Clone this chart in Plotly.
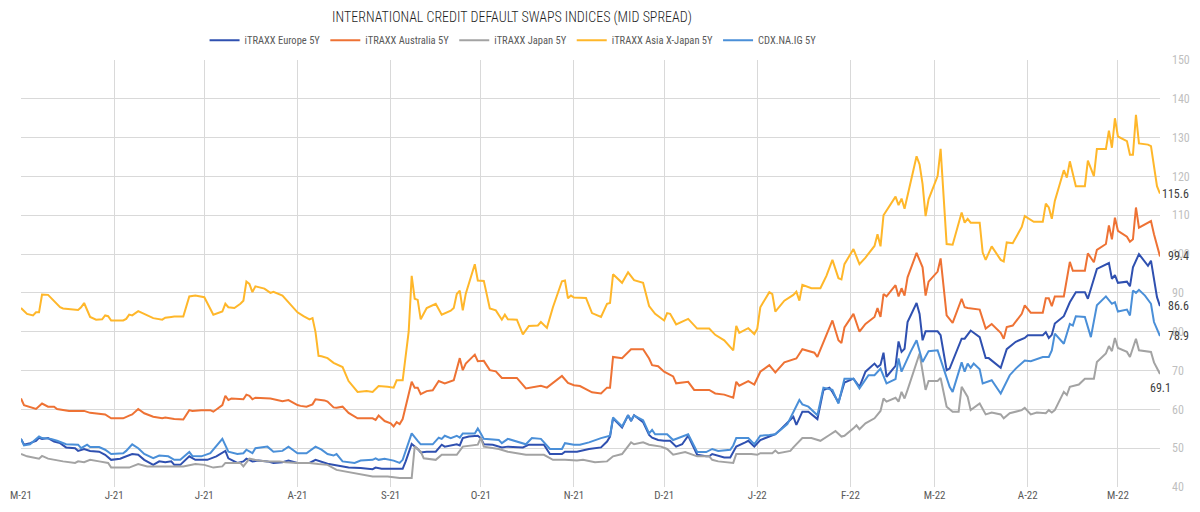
import plotly.graph_objects as go

TITLE = "INTERNATIONAL CREDIT DEFAULT SWAPS INDICES (MID SPREAD)"

TICK_DATES = ["2021-05-01", "2021-06-01", "2021-07-01", "2021-08-01", "2021-09-01", "2021-10-01",
              "2021-11-01", "2021-12-01", "2022-01-01", "2022-02-01", "2022-03-01", "2022-04-01",
              "2022-05-01"]
TICK_LABELS = ["M-21", "J-21", "J-21", "A-21", "S-21", "O-21", "N-21", "D-21", "J-22", "F-22",
               "M-22", "A-22", "M-22"]

# iTRAXX Asia X-Japan 5Y
ASIA_DATES = [
    "2021-05-01", "2021-05-03", "2021-05-05", "2021-05-06", "2021-05-07", "2021-05-08", "2021-05-10", "2021-05-12", "2021-05-14", "2021-05-15",
    "2021-05-17", "2021-05-20", "2021-05-21", "2021-05-22", "2021-05-24", "2021-05-26", "2021-05-28", "2021-05-29", "2021-05-30", "2021-05-31",
    "2021-06-04", "2021-06-05", "2021-06-06", "2021-06-07", "2021-06-09", "2021-06-11", "2021-06-14", "2021-06-17", "2021-06-18", "2021-06-20",
    "2021-06-21", "2021-06-24", "2021-06-26", "2021-06-28", "2021-07-01", "2021-07-04", "2021-07-05", "2021-07-07", "2021-07-08", "2021-07-09",
    "2021-07-11", "2021-07-13", "2021-07-14", "2021-07-15", "2021-07-16", "2021-07-17", "2021-07-18", "2021-07-21", "2021-07-23", "2021-07-24",
    "2021-07-27", "2021-07-29", "2021-08-01", "2021-08-03", "2021-08-05", "2021-08-06", "2021-08-07", "2021-08-08", "2021-08-09", "2021-08-11",
    "2021-08-13", "2021-08-16", "2021-08-18", "2021-08-21", "2021-08-24", "2021-08-26", "2021-08-28", "2021-08-31", "2021-09-02", "2021-09-03",
    "2021-09-05", "2021-09-07", "2021-09-08", "2021-09-09", "2021-09-10", "2021-09-11", "2021-09-13", "2021-09-16", "2021-09-18", "2021-09-21",
    "2021-09-22", "2021-09-23", "2021-09-24", "2021-09-25", "2021-09-26", "2021-09-29", "2021-09-30", "2021-10-02", "2021-10-04", "2021-10-06",
    "2021-10-08", "2021-10-09", "2021-10-10", "2021-10-13", "2021-10-15", "2021-10-17", "2021-10-20", "2021-10-21", "2021-10-23", "2021-10-25",
    "2021-10-28", "2021-10-29", "2021-10-30", "2021-10-31", "2021-11-01", "2021-11-05", "2021-11-07", "2021-11-10", "2021-11-12", "2021-11-13",
    "2021-11-14", "2021-11-17", "2021-11-19", "2021-11-21", "2021-11-24", "2021-11-26", "2021-11-28", "2021-12-01", "2021-12-02", "2021-12-03",
    "2021-12-05", "2021-12-09", "2021-12-12", "2021-12-16", "2021-12-18", "2021-12-21", "2021-12-23", "2021-12-24", "2021-12-25", "2021-12-26",
    "2021-12-29", "2021-12-31", "2022-01-01", "2022-01-02", "2022-01-05", "2022-01-06", "2022-01-07", "2022-01-10", "2022-01-13", "2022-01-14",
    "2022-01-15", "2022-01-16", "2022-01-19", "2022-01-22", "2022-01-24", "2022-01-26", "2022-01-28", "2022-01-29", "2022-01-30", "2022-02-02",
    "2022-02-04", "2022-02-06", "2022-02-09", "2022-02-10", "2022-02-11", "2022-02-12", "2022-02-16", "2022-02-17", "2022-02-18", "2022-02-19",
    "2022-02-23", "2022-02-24", "2022-02-25", "2022-02-26", "2022-02-27", "2022-03-02", "2022-03-03", "2022-03-05", "2022-03-07", "2022-03-10",
    "2022-03-11", "2022-03-12", "2022-03-13", "2022-03-16", "2022-03-17", "2022-03-18", "2022-03-20", "2022-03-23", "2022-03-24", "2022-03-25",
    "2022-03-27", "2022-03-30", "2022-03-31", "2022-04-03", "2022-04-06", "2022-04-07", "2022-04-08", "2022-04-09", "2022-04-10", "2022-04-13",
    "2022-04-14", "2022-04-15", "2022-04-17", "2022-04-20", "2022-04-21", "2022-04-23", "2022-04-24", "2022-04-27", "2022-04-28", "2022-04-29",
    "2022-04-30", "2022-05-01", "2022-05-03", "2022-05-04", "2022-05-05", "2022-05-06", "2022-05-07", "2022-05-08", "2022-05-11", "2022-05-12",
    "2022-05-14", "2022-05-15"]
ASIA_VALUES = [
    86.1, 84.6, 84.2, 85.0, 85.0, 89.6, 89.5, 88.0, 86.3, 86.0,
    85.9, 85.6, 86.3, 87.4, 83.8, 83.1, 83.2, 84.2, 84.0, 82.9,
    82.9, 83.3, 84.4, 84.2, 85.3, 84.6, 83.5, 83.1, 83.6, 83.8,
    83.9, 83.9, 89.1, 89.3, 88.9, 84.4, 84.6, 85.2, 87.2, 86.3,
    86.1, 87.2, 88.0, 92.9, 92.3, 90.2, 91.7, 91.1, 90.0, 90.3,
    89.3, 87.6, 85.0, 84.0, 83.2, 83.5, 79.9, 73.8, 73.7, 73.2,
    72.0, 70.9, 67.3, 64.5, 64.7, 64.5, 66.0, 65.8, 65.6, 67.5,
    67.5, 80.0, 94.4, 88.5, 88.2, 83.2, 86.1, 87.2, 84.4, 85.4,
    86.1, 89.7, 90.6, 85.5, 89.8, 97.4, 93.2, 93.1, 86.0, 85.5,
    83.1, 84.4, 83.2, 83.1, 79.3, 81.5, 81.6, 82.5, 81.0, 86.3,
    93.0, 93.2, 88.6, 89.3, 88.8, 88.7, 84.8, 83.8, 87.2, 87.4,
    94.8, 92.6, 95.3, 93.3, 92.6, 86.6, 84.6, 82.9, 84.8, 84.6,
    81.9, 83.3, 80.8, 80.8, 79.2, 77.8, 76.1, 75.2, 81.5, 79.7,
    80.9, 79.4, 80.8, 86.3, 90.2, 89.7, 85.2, 88.0, 89.5, 90.3,
    88.0, 92.1, 91.2, 91.2, 94.4, 98.5, 93.8, 93.5, 97.4, 101.3,
    97.4, 99.1, 102.1, 105.1, 102.0, 110.0, 114.8, 112.6, 114.3, 111.7,
    125.2, 123.1, 118.0, 109.8, 114.1, 120.1, 127.1, 102.6, 102.4, 110.7,
    108.1, 109.1, 108.1, 108.1, 100.4, 98.5, 102.0, 98.5, 98.1, 103.0,
    102.8, 107.0, 109.8, 108.3, 108.3, 113.0, 112.0, 109.1, 113.7, 121.6,
    119.7, 123.9, 117.5, 117.5, 124.1, 120.1, 127.1, 127.1, 131.8, 127.4,
    135.0, 130.3, 129.5, 129.1, 125.6, 125.6, 135.9, 128.5, 128.2, 127.8,
    117.5, 115.6]

# iTRAXX Australia 5Y
AUS_DATES = [
    "2021-05-01", "2021-05-02", "2021-05-06", "2021-05-08", "2021-05-10", "2021-05-12", "2021-05-13", "2021-05-17", "2021-05-20", "2021-05-22",
    "2021-05-24", "2021-05-27", "2021-05-29", "2021-05-31", "2021-06-04", "2021-06-06", "2021-06-07", "2021-06-09", "2021-06-11", "2021-06-14",
    "2021-06-17", "2021-06-18", "2021-06-21", "2021-06-24", "2021-06-26", "2021-06-27", "2021-06-30", "2021-07-03", "2021-07-04", "2021-07-07",
    "2021-07-08", "2021-07-09", "2021-07-10", "2021-07-14", "2021-07-15", "2021-07-16", "2021-07-17", "2021-07-18", "2021-07-23", "2021-07-27",
    "2021-07-29", "2021-08-01", "2021-08-02", "2021-08-04", "2021-08-06", "2021-08-07", "2021-08-10", "2021-08-11", "2021-08-13", "2021-08-14",
    "2021-08-16", "2021-08-18", "2021-08-21", "2021-08-26", "2021-08-27", "2021-08-28", "2021-08-30", "2021-09-01", "2021-09-02", "2021-09-03",
    "2021-09-04", "2021-09-05", "2021-09-08", "2021-09-09", "2021-09-10", "2021-09-11", "2021-09-13", "2021-09-15", "2021-09-17", "2021-09-19",
    "2021-09-22", "2021-09-24", "2021-09-25", "2021-09-26", "2021-09-29", "2021-09-30", "2021-10-02", "2021-10-04", "2021-10-06", "2021-10-08",
    "2021-10-13", "2021-10-16", "2021-10-18", "2021-10-21", "2021-10-23", "2021-10-28", "2021-10-30", "2021-11-01", "2021-11-03", "2021-11-05",
    "2021-11-07", "2021-11-10", "2021-11-12", "2021-11-13", "2021-11-14", "2021-11-17", "2021-11-20", "2021-11-24", "2021-11-26", "2021-11-27",
    "2021-11-29", "2021-12-01", "2021-12-04", "2021-12-05", "2021-12-09", "2021-12-11", "2021-12-16", "2021-12-18", "2021-12-21", "2021-12-24",
    "2021-12-25", "2021-12-26", "2021-12-29", "2021-12-31", "2022-01-02", "2022-01-05", "2022-01-07", "2022-01-10", "2022-01-14", "2022-01-16",
    "2022-01-20", "2022-01-21", "2022-01-24", "2022-01-26", "2022-01-28", "2022-01-29", "2022-01-30", "2022-02-02", "2022-02-04", "2022-02-06",
    "2022-02-09", "2022-02-10", "2022-02-11", "2022-02-12", "2022-02-13", "2022-02-16", "2022-02-17", "2022-02-18", "2022-02-19", "2022-02-20",
    "2022-02-23", "2022-02-25", "2022-02-26", "2022-02-27", "2022-03-02", "2022-03-03", "2022-03-05", "2022-03-07", "2022-03-10", "2022-03-11",
    "2022-03-12", "2022-03-16", "2022-03-18", "2022-03-20", "2022-03-23", "2022-03-24", "2022-03-25", "2022-03-27", "2022-03-30", "2022-03-31",
    "2022-04-02", "2022-04-06", "2022-04-07", "2022-04-08", "2022-04-09", "2022-04-10", "2022-04-13", "2022-04-15", "2022-04-16", "2022-04-20",
    "2022-04-21", "2022-04-23", "2022-04-24", "2022-04-27", "2022-04-28", "2022-04-29", "2022-04-30", "2022-05-01", "2022-05-04", "2022-05-05",
    "2022-05-06", "2022-05-07", "2022-05-08", "2022-05-12", "2022-05-13", "2022-05-15"]
AUS_VALUES = [
    62.8, 61.1, 60.1, 61.5, 60.7, 60.7, 60.1, 59.6, 59.6, 59.6,
    59.1, 58.9, 58.7, 57.7, 57.7, 58.4, 58.7, 60.1, 59.0, 58.1,
    57.7, 57.9, 57.5, 57.4, 59.8, 59.6, 59.8, 59.8, 59.4, 61.1,
    63.5, 62.4, 62.8, 62.6, 63.8, 63.5, 62.6, 63.0, 62.8, 62.1,
    62.4, 61.1, 60.9, 60.7, 61.3, 62.6, 62.3, 62.0, 60.5, 60.4,
    60.7, 59.1, 57.7, 57.7, 57.3, 58.4, 57.0, 56.4, 55.6, 56.7,
    56.2, 57.5, 67.1, 65.6, 65.6, 63.9, 64.7, 64.9, 67.3, 66.7,
    67.5, 73.2, 70.1, 71.8, 74.1, 72.4, 72.5, 70.1, 69.8, 68.1,
    68.1, 65.4, 65.7, 66.1, 65.6, 68.6, 66.8, 66.2, 66.0, 65.1,
    64.4, 64.1, 65.6, 65.6, 73.5, 73.2, 75.5, 75.5, 73.1, 71.4,
    71.1, 69.7, 68.5, 66.7, 67.1, 65.0, 65.0, 64.1, 63.8, 63.0,
    67.1, 66.1, 67.3, 66.4, 69.7, 71.4, 69.5, 72.1, 73.1, 75.5,
    74.6, 73.5, 78.9, 82.9, 77.8, 77.1, 81.1, 84.6, 80.0, 82.0,
    83.8, 86.1, 83.8, 89.7, 89.1, 92.0, 89.1, 91.2, 89.3, 94.0,
    100.3, 96.6, 89.3, 92.9, 95.5, 98.9, 84.2, 82.3, 88.5, 86.3,
    86.1, 85.7, 80.8, 82.0, 79.7, 78.2, 81.2, 81.6, 84.6, 86.8,
    84.9, 84.9, 88.6, 88.6, 86.6, 89.1, 89.1, 98.0, 95.7, 95.7,
    100.2, 97.9, 101.1, 102.6, 107.4, 103.8, 109.4, 106.0, 104.5, 103.2,
    103.8, 112.0, 106.8, 108.5, 105.1, 99.4]

# iTRAXX Europe 5Y
EUR_DATES = [
    "2021-05-01", "2021-05-02", "2021-05-04", "2021-05-06", "2021-05-07", "2021-05-08", "2021-05-10", "2021-05-12", "2021-05-14", "2021-05-16",
    "2021-05-19", "2021-05-20", "2021-05-22", "2021-05-24", "2021-05-27", "2021-05-29", "2021-05-31", "2021-06-03", "2021-06-04", "2021-06-07",
    "2021-06-09", "2021-06-11", "2021-06-14", "2021-06-16", "2021-06-18", "2021-06-20", "2021-06-21", "2021-06-23", "2021-06-26", "2021-06-28",
    "2021-07-02", "2021-07-05", "2021-07-08", "2021-07-09", "2021-07-12", "2021-07-14", "2021-07-15", "2021-07-17", "2021-07-19", "2021-07-22",
    "2021-07-24", "2021-07-27", "2021-07-29", "2021-08-01", "2021-08-05", "2021-08-07", "2021-08-11", "2021-08-14", "2021-08-18", "2021-08-22",
    "2021-08-26", "2021-08-27", "2021-08-29", "2021-09-02", "2021-09-05", "2021-09-06", "2021-09-08", "2021-09-10", "2021-09-11", "2021-09-13",
    "2021-09-16", "2021-09-18", "2021-09-19", "2021-09-23", "2021-09-24", "2021-09-25", "2021-09-27", "2021-09-30", "2021-10-01", "2021-10-02",
    "2021-10-05", "2021-10-08", "2021-10-10", "2021-10-15", "2021-10-17", "2021-10-22", "2021-10-24", "2021-10-28", "2021-10-29", "2021-11-02",
    "2021-11-06", "2021-11-10", "2021-11-12", "2021-11-13", "2021-11-14", "2021-11-17", "2021-11-19", "2021-11-20", "2021-11-21", "2021-11-24",
    "2021-11-26", "2021-11-27", "2021-11-29", "2021-12-01", "2021-12-03", "2021-12-05", "2021-12-07", "2021-12-09", "2021-12-12", "2021-12-15",
    "2021-12-16", "2021-12-17", "2021-12-21", "2021-12-23", "2021-12-25", "2021-12-28", "2021-12-29", "2021-12-31", "2022-01-02", "2022-01-05",
    "2022-01-07", "2022-01-09", "2022-01-13", "2022-01-14", "2022-01-16", "2022-01-18", "2022-01-21", "2022-01-23", "2022-01-25", "2022-01-26",
    "2022-01-28", "2022-01-30", "2022-02-02", "2022-02-04", "2022-02-06", "2022-02-09", "2022-02-10", "2022-02-11", "2022-02-12", "2022-02-13",
    "2022-02-16", "2022-02-17", "2022-02-18", "2022-02-19", "2022-02-20", "2022-02-23", "2022-02-24", "2022-02-25", "2022-02-26", "2022-03-02",
    "2022-03-03", "2022-03-05", "2022-03-06", "2022-03-10", "2022-03-11", "2022-03-13", "2022-03-16", "2022-03-18", "2022-03-19", "2022-03-23",
    "2022-03-25", "2022-03-28", "2022-03-29", "2022-03-31", "2022-04-01", "2022-04-06", "2022-04-07", "2022-04-08", "2022-04-09", "2022-04-10",
    "2022-04-13", "2022-04-15", "2022-04-17", "2022-04-20", "2022-04-21", "2022-04-24", "2022-04-28", "2022-04-29", "2022-04-30", "2022-05-01",
    "2022-05-04", "2022-05-05", "2022-05-06", "2022-05-08", "2022-05-11", "2022-05-12", "2022-05-14", "2022-05-15"]
EUR_VALUES = [
    52.4, 50.9, 51.3, 51.9, 52.7, 52.4, 52.6, 51.7, 51.3, 50.2,
    50.0, 49.3, 49.8, 49.3, 49.1, 48.3, 47.0, 47.3, 47.6, 48.5,
    48.3, 47.0, 45.7, 46.6, 46.4, 46.6, 45.7, 45.7, 47.9, 47.0,
    47.0, 47.9, 49.3, 47.4, 46.2, 46.6, 47.3, 46.6, 46.8, 46.6,
    46.2, 46.4, 46.8, 46.2, 46.2, 47.0, 46.0, 45.6, 45.0, 44.9,
    44.6, 45.0, 44.7, 44.7, 44.7, 46.6, 51.1, 49.8, 48.9, 49.1,
    49.1, 50.9, 50.4, 51.0, 50.7, 52.6, 53.0, 53.2, 52.6, 51.0,
    50.9, 50.2, 50.4, 50.2, 50.9, 50.9, 48.5, 48.5, 49.1, 49.1,
    49.8, 50.2, 51.7, 53.0, 57.7, 55.3, 58.5, 57.0, 58.5, 56.7,
    53.4, 52.7, 52.1, 51.9, 51.9, 50.4, 51.0, 53.2, 48.3, 47.9,
    47.9, 48.5, 47.6, 47.6, 50.4, 51.5, 51.9, 50.4, 52.1, 53.0,
    53.6, 55.0, 58.1, 56.0, 59.4, 59.4, 57.5, 65.0, 65.6, 64.5,
    61.8, 66.9, 67.9, 65.8, 69.7, 71.8, 70.9, 71.5, 74.6, 68.4,
    71.2, 77.5, 74.8, 75.6, 82.5, 87.4, 84.6, 77.8, 80.1, 80.1,
    79.1, 70.1, 70.5, 78.2, 78.2, 80.3, 78.6, 73.2, 73.2, 70.7,
    75.5, 77.4, 77.8, 78.4, 79.1, 79.1, 79.9, 78.4, 79.2, 82.1,
    84.0, 87.6, 90.2, 90.2, 88.5, 96.2, 97.7, 93.6, 94.6, 92.6,
    92.9, 91.7, 96.6, 100.0, 97.0, 98.3, 88.9, 86.6]

# CDX.NA.IG 5Y
CDX_DATES = [
    "2021-05-01", "2021-05-02", "2021-05-04", "2021-05-07", "2021-05-08", "2021-05-11", "2021-05-13", "2021-05-16", "2021-05-20", "2021-05-21",
    "2021-05-23", "2021-05-24", "2021-05-27", "2021-05-29", "2021-05-31", "2021-06-04", "2021-06-05", "2021-06-07", "2021-06-09", "2021-06-11",
    "2021-06-14", "2021-06-16", "2021-06-19", "2021-06-21", "2021-06-23", "2021-06-26", "2021-06-27", "2021-06-30", "2021-07-03", "2021-07-07",
    "2021-07-09", "2021-07-12", "2021-07-14", "2021-07-15", "2021-07-17", "2021-07-18", "2021-07-22", "2021-07-24", "2021-07-27", "2021-07-29",
    "2021-08-01", "2021-08-04", "2021-08-07", "2021-08-09", "2021-08-11", "2021-08-13", "2021-08-14", "2021-08-16", "2021-08-20", "2021-08-22",
    "2021-08-26", "2021-08-27", "2021-08-28", "2021-08-30", "2021-09-02", "2021-09-04", "2021-09-05", "2021-09-08", "2021-09-10", "2021-09-11",
    "2021-09-15", "2021-09-17", "2021-09-18", "2021-09-19", "2021-09-21", "2021-09-23", "2021-09-24", "2021-09-25", "2021-09-29", "2021-09-30",
    "2021-10-01", "2021-10-02", "2021-10-07", "2021-10-08", "2021-10-10", "2021-10-13", "2021-10-16", "2021-10-18", "2021-10-21", "2021-10-24",
    "2021-10-28", "2021-10-29", "2021-11-01", "2021-11-03", "2021-11-06", "2021-11-10", "2021-11-13", "2021-11-14", "2021-11-17", "2021-11-19",
    "2021-11-20", "2021-11-21", "2021-11-24", "2021-11-26", "2021-11-27", "2021-11-28", "2021-12-02", "2021-12-04", "2021-12-09", "2021-12-12",
    "2021-12-15", "2021-12-17", "2021-12-19", "2021-12-23", "2021-12-24", "2021-12-25", "2021-12-29", "2021-12-31", "2022-01-02", "2022-01-05",
    "2022-01-07", "2022-01-11", "2022-01-13", "2022-01-15", "2022-01-16", "2022-01-18", "2022-01-21", "2022-01-23", "2022-01-26", "2022-01-28",
    "2022-01-30", "2022-02-02", "2022-02-04", "2022-02-07", "2022-02-09", "2022-02-11", "2022-02-13", "2022-02-16", "2022-02-17", "2022-02-18",
    "2022-02-21", "2022-02-23", "2022-02-25", "2022-02-27", "2022-03-02", "2022-03-06", "2022-03-07", "2022-03-10", "2022-03-11", "2022-03-12",
    "2022-03-13", "2022-03-14", "2022-03-16", "2022-03-17", "2022-03-20", "2022-03-23", "2022-03-26", "2022-03-28", "2022-03-31", "2022-04-02",
    "2022-04-06", "2022-04-08", "2022-04-09", "2022-04-10", "2022-04-13", "2022-04-15", "2022-04-16", "2022-04-17", "2022-04-20", "2022-04-22",
    "2022-04-24", "2022-04-27", "2022-04-29", "2022-04-30", "2022-05-01", "2022-05-04", "2022-05-05", "2022-05-06", "2022-05-07", "2022-05-08",
    "2022-05-10", "2022-05-12", "2022-05-13", "2022-05-15"]
CDX_VALUES = [
    52.4, 50.7, 51.0, 53.0, 52.6, 52.4, 51.9, 51.0, 50.9, 50.0,
    50.9, 50.3, 50.3, 49.6, 48.5, 48.7, 49.3, 51.0, 50.0, 48.5,
    47.4, 48.1, 47.9, 47.0, 47.0, 49.0, 48.0, 47.9, 48.7, 52.4,
    49.1, 48.5, 48.7, 49.6, 48.7, 50.0, 50.4, 49.1, 49.3, 50.4,
    48.7, 48.7, 50.4, 49.6, 48.5, 48.1, 48.5, 46.6, 46.2, 46.8,
    47.0, 47.4, 47.0, 47.3, 46.8, 46.2, 47.0, 53.8, 51.9, 51.0,
    51.0, 52.7, 52.4, 53.2, 52.6, 53.2, 52.7, 53.8, 53.8, 55.1,
    53.8, 52.4, 52.1, 51.3, 52.4, 51.7, 51.0, 52.6, 52.4, 49.8,
    49.8, 51.3, 50.9, 50.9, 51.5, 52.6, 53.2, 57.9, 55.6, 58.5,
    57.2, 58.4, 57.2, 53.8, 54.7, 53.6, 53.6, 52.1, 53.6, 49.0,
    49.0, 49.8, 49.3, 49.6, 50.7, 52.6, 52.6, 51.0, 53.2, 53.4,
    53.6, 56.2, 59.4, 62.4, 61.3, 60.7, 58.5, 65.6, 65.0, 61.5,
    67.9, 67.9, 65.4, 68.8, 68.8, 70.5, 66.7, 67.8, 73.1, 69.7,
    74.8, 77.8, 72.2, 75.0, 75.2, 65.8, 64.5, 72.1, 69.7, 71.8,
    70.7, 71.8, 70.3, 66.7, 67.5, 64.1, 68.8, 70.5, 72.6, 72.4,
    73.5, 73.5, 75.2, 79.5, 76.9, 82.0, 81.6, 84.0, 83.8, 78.6,
    86.8, 89.1, 87.2, 87.6, 85.2, 85.7, 84.2, 90.6, 90.0, 90.8,
    89.3, 87.2, 82.5, 78.9]

# iTRAXX Japan 5Y
JPN_DATES = [
    "2021-05-01", "2021-05-03", "2021-05-07", "2021-05-08", "2021-05-10", "2021-05-12", "2021-05-15", "2021-05-19", "2021-05-20", "2021-05-22",
    "2021-05-24", "2021-05-27", "2021-05-30", "2021-05-31", "2021-06-04", "2021-06-06", "2021-06-09", "2021-06-12", "2021-06-18", "2021-06-21",
    "2021-06-24", "2021-06-28", "2021-07-01", "2021-07-04", "2021-07-07", "2021-07-08", "2021-07-13", "2021-07-14", "2021-07-16", "2021-07-19",
    "2021-07-22", "2021-07-26", "2021-07-28", "2021-08-01", "2021-08-05", "2021-08-08", "2021-08-11", "2021-08-14", "2021-08-18", "2021-08-22",
    "2021-08-26", "2021-08-31", "2021-09-04", "2021-09-08", "2021-09-09", "2021-09-11", "2021-09-12", "2021-09-16", "2021-09-18", "2021-09-23",
    "2021-09-25", "2021-09-30", "2021-10-01", "2021-10-02", "2021-10-07", "2021-10-10", "2021-10-16", "2021-10-22", "2021-10-25", "2021-10-29",
    "2021-11-02", "2021-11-04", "2021-11-08", "2021-11-12", "2021-11-14", "2021-11-17", "2021-11-20", "2021-11-21", "2021-11-24", "2021-11-26",
    "2021-11-30", "2021-12-02", "2021-12-04", "2021-12-08", "2021-12-10", "2021-12-12", "2021-12-16", "2021-12-17", "2021-12-19", "2021-12-24",
    "2021-12-25", "2021-12-30", "2022-01-01", "2022-01-02", "2022-01-06", "2022-01-07", "2022-01-08", "2022-01-12", "2022-01-13", "2022-01-16",
    "2022-01-19", "2022-01-22", "2022-01-25", "2022-01-27", "2022-01-29", "2022-01-30", "2022-02-02", "2022-02-03", "2022-02-04", "2022-02-06",
    "2022-02-09", "2022-02-11", "2022-02-12", "2022-02-13", "2022-02-16", "2022-02-17", "2022-02-18", "2022-02-19", "2022-02-20", "2022-02-24",
    "2022-02-25", "2022-02-26", "2022-02-27", "2022-03-02", "2022-03-03", "2022-03-05", "2022-03-07", "2022-03-09", "2022-03-10", "2022-03-12",
    "2022-03-13", "2022-03-16", "2022-03-18", "2022-03-20", "2022-03-23", "2022-03-24", "2022-03-26", "2022-03-30", "2022-03-31", "2022-04-02",
    "2022-04-04", "2022-04-07", "2022-04-08", "2022-04-09", "2022-04-10", "2022-04-13", "2022-04-14", "2022-04-15", "2022-04-18", "2022-04-20",
    "2022-04-23", "2022-04-24", "2022-04-27", "2022-04-28", "2022-04-29", "2022-04-30", "2022-05-01", "2022-05-04", "2022-05-05", "2022-05-07",
    "2022-05-08", "2022-05-12", "2022-05-13", "2022-05-15"]
JPN_VALUES = [
    48.5, 47.9, 47.3, 48.0, 47.3, 47.0, 46.6, 46.2, 46.6, 46.4,
    47.0, 46.6, 46.2, 45.0, 44.9, 45.0, 45.9, 45.3, 45.3, 45.3,
    45.3, 45.9, 45.7, 45.0, 45.3, 46.2, 46.2, 45.3, 47.3, 46.8,
    46.6, 46.6, 46.4, 46.2, 46.2, 45.9, 45.7, 44.4, 43.8, 43.2,
    42.7, 42.7, 42.3, 42.3, 50.4, 49.1, 47.4, 47.0, 48.3, 48.3,
    50.4, 50.9, 52.7, 50.4, 49.8, 49.1, 48.3, 48.3, 47.0, 47.0,
    46.8, 47.0, 46.4, 46.6, 47.9, 48.5, 51.5, 51.0, 51.5, 50.9,
    50.4, 49.8, 48.3, 49.0, 48.5, 47.9, 47.9, 47.0, 46.6, 46.2,
    48.5, 48.5, 48.3, 48.7, 48.7, 49.4, 48.7, 49.3, 50.2, 52.6,
    52.6, 51.9, 53.4, 54.4, 53.0, 53.2, 55.1, 55.9, 54.9, 56.4,
    57.7, 59.6, 62.8, 62.0, 63.0, 62.0, 64.5, 62.8, 65.0, 74.4,
    69.7, 65.0, 67.3, 67.3, 68.1, 60.7, 59.4, 59.4, 65.8, 63.2,
    59.8, 61.5, 58.7, 59.2, 58.7, 57.7, 59.0, 59.8, 60.4, 58.7,
    59.2, 59.0, 59.8, 59.2, 59.8, 64.5, 63.7, 65.8, 66.4, 67.9,
    67.9, 72.2, 74.4, 76.3, 75.0, 78.4, 75.8, 74.8, 73.5, 78.2,
    75.2, 74.8, 72.1, 69.1]

SERIES = [
    ("iTRAXX Europe 5Y", EUR_DATES, EUR_VALUES, "#2F50B0"),
    ("iTRAXX Australia 5Y", AUS_DATES, AUS_VALUES, "#EE7234"),
    ("iTRAXX Japan 5Y", JPN_DATES, JPN_VALUES, "#A3A3A3"),
    ("iTRAXX Asia X-Japan 5Y", ASIA_DATES, ASIA_VALUES, "#FFB72A"),
    ("CDX.NA.IG 5Y", CDX_DATES, CDX_VALUES, "#4A8FD8"),
]

FONT = ("'Noto Sans ExtraCondensed', 'Noto Sans Condensed', 'Roboto Condensed', "
        "'DejaVu Sans Condensed', sans-serif")

fig = go.Figure()
for name, d, v, c in SERIES:
    fig.add_trace(go.Scatter(x=d, y=v, mode="lines", name=name,
                             line=dict(color=c, width=2)))

# end-of-series value labels
for name, d, v, c in SERIES:
    below = name == "iTRAXX Japan 5Y"
    fig.add_annotation(x=d[-1], y=v[-1], text=f"{v[-1]:.1f}", showarrow=False,
                       xanchor="center" if below else "right",
                       yanchor="top" if below else "middle",
                       xshift=0 if below else 31, yshift=-5 if below else 0,
                       font=dict(family=FONT, size=12, color="#404040"))

fig.update_layout(
    width=1200, height=512,
    margin=dict(l=10, r=28, t=60, b=23),
    paper_bgcolor="white", plot_bgcolor="white",
    title=dict(text=TITLE, x=512 / 1200, xanchor="center", xref="container",
               y=1 - 17 / 512, yanchor="middle",
               font=dict(family=FONT, size=14, color="#1F1F1F", weight=300)),
    legend=dict(orientation="h", x=(512 - 10) / 1162, xanchor="center", y=1.046, yanchor="middle",
                font=dict(family=FONT, size=10.5, color="#595959"), itemwidth=30,
                tracegroupgap=0, bgcolor="rgba(0,0,0,0)"),
    showlegend=True,
    xaxis=dict(type="date", range=["2021-05-01", "2022-05-15"],
               tickvals=TICK_DATES, ticktext=TICK_LABELS, ticklabeloverflow="allow",
               showgrid=True, gridcolor="#D9D9D9", gridwidth=1,
               zeroline=False, showline=False, ticks="",
               tickfont=dict(family=FONT, size=11, color="#595959")),
    yaxis=dict(side="right", range=[40, 150], dtick=10, tick0=40,
               showgrid=True, gridcolor="#D9D9D9", gridwidth=1,
               zeroline=False, showline=False, ticks="", ticklabelstandoff=11,
               tickfont=dict(family=FONT, size=12, color="#BFBFBF")),
)

fig.write_html("out.html")
